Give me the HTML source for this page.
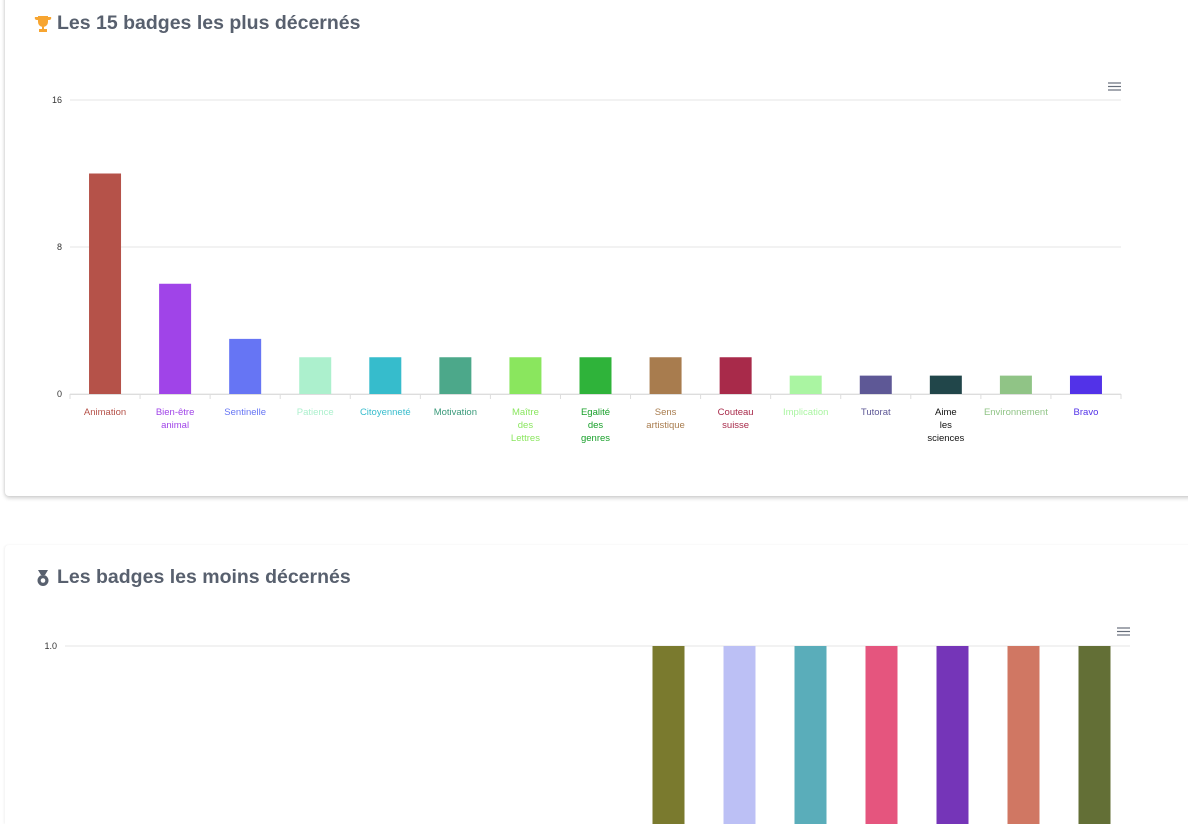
<!DOCTYPE html>
<html><head><meta charset="utf-8"><style>
html,body{margin:0;padding:0;background:#fff;width:1188px;height:824px;overflow:hidden;font-family:"Liberation Sans",sans-serif;position:relative}
.card{position:absolute;left:5px;width:1200px;background:#fff;border-radius:4px;box-shadow:0 2px 4px rgba(0,0,0,0.2),-1px 0 2px rgba(0,0,0,0.05)}
.title{position:absolute;left:34px;font-size:19.5px;font-weight:bold;color:#58606e;display:flex;align-items:center;gap:5px}
svg{position:absolute;left:0;top:0}
</style></head><body>
<div class="card" style="top:-10px;height:506px"></div>
<div class="card" style="top:545px;height:279px;border-radius:4px 0 0 0;box-shadow:-1px 0 2px rgba(0,0,0,0.06)"></div>
<div class="title" style="top:12px">
<svg width="18" height="18" viewBox="0 0 18 18" style="position:static"><path d="M4 1h10v6a5 5 0 0 1-10 0z M1 2h3v3a2 2 0 0 1-1 0 2 2 0 0 1-2-3z M14 2h3a2 2 0 0 1-2 3h-1z M8 11h2v3h3v3H5v-3h3z" fill="#f7a531"/></svg>
<span>Les 15 badges les plus décernés</span></div>
<div class="title" style="top:566px">
<svg width="18" height="18" viewBox="0 0 18 18" style="position:static"><path d="M4 1h10l-3 5H7z" fill="#58606e"/><circle cx="9" cy="11.5" r="5.5" fill="#58606e"/><circle cx="9" cy="11.5" r="2.3" fill="#fff"/></svg>
<span>Les badges les moins décernés</span></div>
<svg id="chart" width="1188" height="824"></svg>
<script>
const topCats=[["Animation"],["Bien-être","animal"],["Sentinelle"],["Patience"],["Citoyenneté"],["Motivation"],["Maître","des","Lettres"],["Egalité","des","genres"],["Sens","artistique"],["Couteau","suisse"],["Implication"],["Tutorat"],["Aime","les","sciences"],["Environnement"],["Bravo"]];
const topValues=[12,6,3,2,2,2,2,2,2,2,1,1,1,1,1];
const topColors=["#b55249","#a044e8","#6675f4","#acf0cd","#36bccc","#4ca88a","#8ae65e","#2fb33a","#a87c4e","#a82a4a","#aaf5a2","#5e5896","#21464a","#90c486","#5232e8"];
const topLabelColors=["#b55249","#a044e8","#6675f4","#acf0cd","#36bccc","#3a9a7a","#8ae65e","#18a02a","#a87c4e","#a82a4a","#aaf5a2","#5e5896","#111","#90c486","#5232e8"];
const topTicks=[0,8,16];
const botValues=[0,0,0,0,0,0,0,0,1,1,1,1,1,1,1];
const botColors=["#ccc","#ccc","#ccc","#ccc","#ccc","#ccc","#ccc","#ccc","#7a7a2e","#bcc0f5","#5aadba","#e5557e","#7535b8","#d07763","#636f36"];
const botTicks=["1.0"];
const NS="http://www.w3.org/2000/svg";
const svg=document.getElementById('chart');
function mk(t,a){const e=document.createElementNS(NS,t);for(const k in a)e.setAttribute(k,a[k]);svg.appendChild(e);return e;}
const tx0=70,tx1=1121,ty0=394,tyMax=16,tyTop=100;
const tw=(tx1-tx0)/topValues.length;
const ty=v=>ty0-(v/tyMax)*(ty0-tyTop);
const txc=i=>tx0+tw*(i+0.5);
topTicks.forEach(t=>{
 const l=mk('line',{x1:tx0,x2:tx1,y1:ty(t),y2:ty(t),stroke:'#e6e6e6','stroke-width':1});
 
 
 const tt=mk('text',{x:62,y:ty(t)+3,'text-anchor':'end','font-size':9,fill:'#333'});tt.textContent=t;
 
 
});
topValues.forEach((v,i)=>{
 const r=mk('rect',{x:txc(i)-16,y:ty(v),width:32,height:ty0-ty(v),fill:topColors[i]});
 
 
 topCats[i].forEach((s,j)=>{
  const t=mk('text',{x:txc(i),y:415+j*13,'text-anchor':'middle','font-size':9.5,fill:topLabelColors[i]});t.textContent=s;
  
  
 });
});
for(let i=0;i<=topValues.length;i++){const m=mk('line',{x1:tx0+tw*i,x2:tx0+tw*i,y1:ty0,y2:ty0+5,stroke:'#ddd'});
 
 }
const ax=mk('line',{x1:tx0,x2:tx1,y1:ty0+0.5,y2:ty0+0.5,stroke:'#ddd'});


const bx0=65,bx1=1130,by1=646,by0=1000;
const bw=(bx1-bx0)/botValues.length;
const by=v=>by0-v*(by0-by1);
const bl=mk('line',{x1:bx0,x2:bx1,y1:by(1),y2:by(1),stroke:'#e6e6e6'});


const bt=mk('text',{x:57,y:by(1)+3,'text-anchor':'end','font-size':9,fill:'#333'});bt.textContent=botTicks[0];


botValues.forEach((v,i)=>{if(!v)return;
 const r=mk('rect',{x:bx0+bw*(i+0.5)-16,y:by(v),width:32,height:Math.min(by0,824)-by(v),fill:botColors[i]});
 
 
});
[[1108,86],[1117,631]].forEach(([x,y])=>{for(let k=0;k<3;k++){const l=mk('line',{x1:x,x2:x+13,y1:y-3+k*3.5,y2:y-3+k*3.5,stroke:'#666e7a','stroke-width':1.2});
 
 }});
</script>
</body></html>
